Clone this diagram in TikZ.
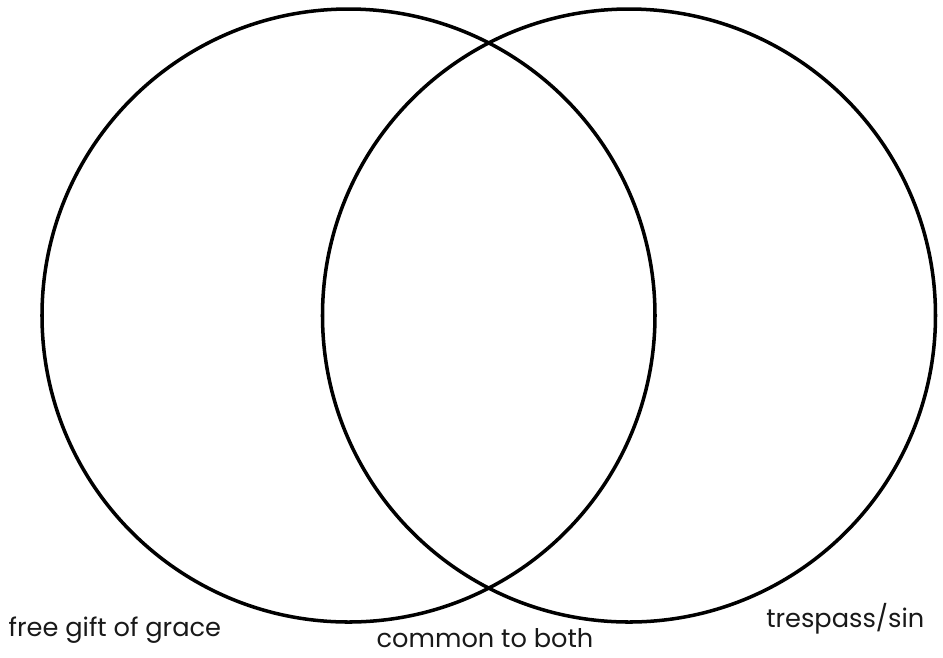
\documentclass[tikz,border=0pt]{standalone}
\usepackage{fontspec}
\setmainfont{Poppins}
\usetikzlibrary{positioning}

\begin{document}
\begin{tikzpicture}[
  x=1cm, y=1cm,
  line cap=round, line join=round,
  ring/.style={draw=black, line width=1pt, circle, inner sep=0pt, minimum size=6.13cm},
  lab/.style={font=\fontsize{7.3}{9}\selectfont, text=black!90, inner sep=0pt},
]
\path[use as bounding box] (0,0) rectangle (9.43,-6.57);

% the two sets
\node[ring] (grace) at (3.485,-3.155) {};
\node[ring] (sin) at (6.29,-3.155) {};

% set labels
\node[lab, anchor=base west] (gracelab) at (0.08,-6.36) {free gift of grace};
\node[lab, anchor=base] (bothlab) at (4.85,-6.47) {common to both};
\node[lab, anchor=base east] (sinlab) at (9.25,-6.27) {trespass/sin};
\end{tikzpicture}
\end{document}
